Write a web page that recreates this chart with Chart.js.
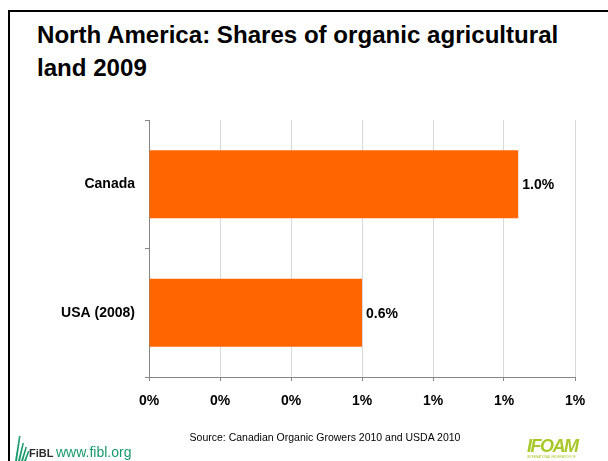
<!DOCTYPE html>
<html>
<head>
<meta charset="utf-8">
<script src="https://cdn.jsdelivr.net/npm/chart.js@4"></script>
<style>
  html, body { margin: 0; padding: 0; background: #fff; }
  body { width: 608px; height: 461px; position: relative; overflow: hidden; font-family: "Liberation Sans", Arial, sans-serif; }
  #frame { position: absolute; left: 8px; top: 10px; width: 640px; height: 500px; border-top: 2px solid #000; border-left: 2px solid #000; }
  #title { position: absolute; left: 37px; top: 18px; width: 570px; font-size: 24.1px; font-weight: bold; line-height: 33px; color: #000; }
  #chartBox { position: absolute; left: 0; top: 0; width: 608px; height: 461px; }
  #source { position: absolute; left: 0; width: 650px; top: 431px; text-align: center; font-size: 10.5px; color: #000; }
  #fibl { position: absolute; left: 14px; top: 434px; width: 130px; height: 27px; }
  #fibl .name { position: absolute; left: 15px; top: 13px; font-size: 11px; font-weight: bold; color: #2b2b2b; }
  #fibl .url { position: absolute; left: 42px; top: 10px; font-size: 14px; color: #1a9a6c; white-space: nowrap; }
  #ifoam { position: absolute; left: 527px; top: 437px; width: 60px; }
  #ifoam .name { font-size: 18px; font-weight: bold; font-style: italic; color: #a8c82a; letter-spacing: -1.5px; line-height: 18px; }
  #ifoam .sub { font-size: 3px; color: #a8c82a; white-space: nowrap; line-height: 4px; }
</style>
</head>
<body>
<div id="frame"></div>
<div id="title">North America: Shares of organic agricultural land 2009</div>
<div id="chartBox"><canvas id="shareChart" width="608" height="461"></canvas></div>
<div id="source">Source: Canadian Organic Growers 2010 and USDA 2010</div>
<div id="fibl">
  <svg width="16" height="27" viewBox="0 0 16 27" style="position:absolute;left:0;top:0">
    <path d="M1 27 L5 2 L6.5 2 L3 27 Z" fill="#1a9a6c"/>
    <path d="M4 27 L8.5 9 L10 9 L6 27 Z" fill="#1a9a6c"/>
    <path d="M7 27 L11.5 13 L13 13 L9 27 Z" fill="#1a9a6c"/>
    <path d="M10 27 L14 17 L15.5 17 L12 27 Z" fill="#1a9a6c"/>
  </svg>
  <span class="name">FiBL</span>
  <span class="url">www.fibl.org</span>
</div>
<div id="ifoam">
  <div class="name">IFOAM</div>
  <div class="sub">INTERNATIONAL FEDERATION OF</div>
</div>
<script>
document.addEventListener('DOMContentLoaded', () => {
    // --- Data ---
    const countries = ['Canada', 'USA (2008)'];
    const organicShare = [1.04, 0.6];
    const shareLabels = ['1.0%', '0.6%'];

    const axisGrey = '#858585';
    const gridGrey = '#d9d9d9';
    const boldFont = { family: '"Liberation Sans", Arial, sans-serif', size: 14, weight: 'bold' };

    // --- Value labels at bar ends ---
    const valueLabels = {
        id: 'valueLabels',
        afterDatasetsDraw(chart) {
            const ctx = chart.ctx;
            const meta = chart.getDatasetMeta(0);
            ctx.save();
            ctx.font = 'bold 14px "Liberation Sans", Arial, sans-serif';
            ctx.fillStyle = '#000';
            ctx.textAlign = 'left';
            ctx.textBaseline = 'middle';
            meta.data.forEach((bar, i) => {
                ctx.fillText(shareLabels[i], bar.x + 4, bar.y + 1);
            });
            ctx.restore();
        }
    };

    new Chart(document.getElementById('shareChart'), {
        type: 'bar',
        data: {
            labels: countries,
            datasets: [{
                data: organicShare,
                backgroundColor: '#ff6600',
                borderWidth: 0,
                barPercentage: 0.53,
                categoryPercentage: 1.0
            }]
        },
        options: {
            indexAxis: 'y',
            responsive: false,
            animation: false,
            layout: { padding: { left: 0, top: 120, right: 33, bottom: 0 } },
            plugins: {
                legend: { display: false },
                tooltip: { enabled: false }
            },
            scales: {
                x: {
                    min: 0,
                    max: 1.2,
                    afterFit: (scale) => { scale.height = 84; },
                    ticks: {
                        stepSize: 0.2,
                        color: '#000',
                        font: boldFont,
                        padding: 12,
                        callback: (v) => Math.round(v) + '%'
                    },
                    grid: { color: gridGrey, tickColor: axisGrey, tickLength: 4, lineWidth: 1 },
                    border: { color: axisGrey, width: 1 }
                },
                y: {
                    afterFit: (scale) => { scale.width = 149; },
                    ticks: { color: '#000', font: boldFont, padding: 10 },
                    grid: { drawOnChartArea: false, tickColor: axisGrey, tickLength: 4, offset: true },
                    border: { color: axisGrey, width: 1 }
                }
            }
        },
        plugins: [valueLabels]
    });
});
</script>
</body>
</html>
